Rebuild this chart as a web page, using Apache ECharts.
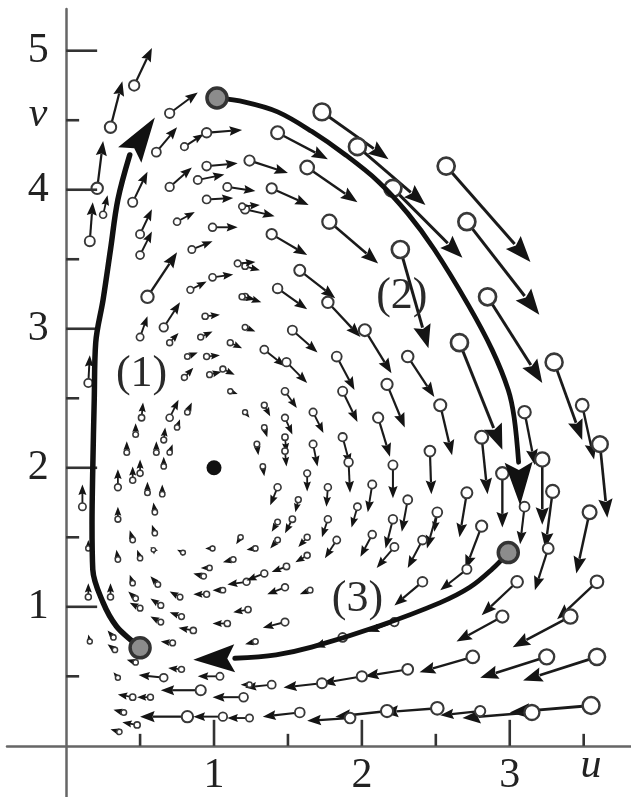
<!DOCTYPE html>
<html><head><meta charset="utf-8">
<script src="https://cdn.jsdelivr.net/npm/echarts@6/dist/echarts.min.js"></script>
<style>html,body{margin:0;padding:0;background:#fff}#c{width:631px;height:797px}</style>
</head><body><div id="c"></div>
<script>
// ---- data ----
const xTickValues = [0.5, 1, 1.5, 2, 2.5, 3, 3.5];
const yTickValues = [0.5, 1, 1.5, 2, 2.5, 3, 3.5, 4, 4.5, 5];
const xLabelValues = [1, 2, 3, 3.55];
const xLabelTexts = ['1', '2', '3', 'u'];
const yLabelValues = [1, 2, 3, 4, 4.5, 5];
const yLabelTexts = ['1', '2', '3', '4', 'v', '5'];
const equilibrium = [[1, 2]];
const stateMarkers = [[0.50, 0.705], [1.02, 4.66], [2.99, 1.39]];
const path1 = [[0.50,0.705],[0.45,0.75],[0.34,0.86],[0.25,1.03],[0.18,1.27],[0.175,1.6],[0.18,1.99],[0.19,2.49],[0.20,2.90],[0.25,3.21],[0.30,3.57],[0.35,3.93],[0.43,4.25],[0.60,4.52]];
const path2 = [[1.02,4.66],[1.21,4.63],[1.43,4.56],[1.66,4.42],[1.89,4.25],[2.11,4.06],[2.31,3.83],[2.49,3.57],[2.72,3.17],[2.88,2.85],[2.99,2.56],[3.03,2.36],[3.06,2.04],[3.07,1.73]];
const path3 = [[2.99,1.39],[2.88,1.27],[2.73,1.14],[2.53,1.03],[2.11,0.86],[1.66,0.71],[1.42,0.655],[1.14,0.63],[0.86,0.62]];
const pathLabels = [[0.51, 2.67, '(1)'], [2.27, 3.23, '(2)'], [1.97, 1.05, '(3)']];
// vector field arrows: [u start, v start, u end, v end]
const fieldArrows = [
[1.73,4.56,2.18,4.22],[1.43,4.41,1.77,4.22],[1.97,4.31,2.43,3.89],[2.21,4.01,2.68,3.51],[2.57,4.17,3.14,3.48],
[1.24,4.21,1.50,4.12],[1.63,4.16,1.97,3.91],[1.39,4.01,1.64,3.89],[2.71,3.77,3.20,3.10],[2.85,3.23,3.22,2.61],
[2.66,2.90,2.95,2.13],[3.30,2.76,3.49,2.20],[3.49,2.45,3.57,2.06],[3.61,2.17,3.66,1.64],[2.53,2.45,2.61,2.09],
[2.81,2.22,2.85,1.81],[3.10,2.40,3.17,2.02],[3.22,2.06,3.22,1.59],[2.95,1.96,2.95,1.57],[2.71,1.82,2.66,1.50],
[2.51,1.68,2.49,1.54],[3.29,1.83,3.24,1.42],[3.10,1.72,3.07,1.45],[2.81,1.58,2.70,1.27],[3.54,1.68,3.45,1.24],
[3.26,1.42,3.17,1.12],[3.59,1.18,3.32,0.91],[3.41,0.93,3.02,0.71],[3.05,1.18,2.81,0.94],[2.95,0.93,2.64,0.75],
[2.75,0.64,2.39,0.53],[3.25,0.64,2.80,0.49],[3.59,0.64,3.09,0.47],[3.55,0.29,3.00,0.24],[3.15,0.24,2.68,0.20],
[2.80,0.25,2.53,0.22],[2.51,0.27,2.14,0.24],[2.17,0.25,1.82,0.21],[1.92,0.20,1.63,0.18],[1.58,0.24,1.33,0.21],
[2.41,1.18,2.22,1.01],[2.22,0.89,2.04,0.82],[1.87,0.78,1.67,0.71],[1.48,0.89,1.33,0.85],[2.31,0.55,2.02,0.50],
[2.00,0.50,1.73,0.45],[1.73,0.45,1.47,0.42],[1.39,0.44,1.21,0.42],[2.71,1.27,2.53,1.12],
[1.78,3.77,2.11,3.47],[1.39,3.68,1.63,3.53],[1.58,3.42,1.82,3.22],[1.43,3.29,1.63,3.14],[1.77,3.19,1.99,2.94],
[1.53,2.99,1.70,2.83],[2.02,2.99,2.20,2.68],[2.26,3.57,2.45,2.86],[2.31,2.80,2.49,2.51],[1.83,2.80,1.95,2.56],
[1.34,2.85,1.48,2.73],[1.49,2.76,1.63,2.61],[2.17,2.60,2.29,2.29],[1.21,3.86,1.41,3.81],[1.21,3.45,1.31,3.42],
[1.21,3.23,1.32,3.19],[1.21,3.01,1.28,2.98],
[1.87,2.55,1.97,2.33],[2.11,2.36,2.19,2.08],[1.48,2.55,1.56,2.43],[1.67,2.40,1.74,2.25],[1.34,2.45,1.38,2.37],
[1.48,2.36,1.53,2.24],[1.34,2.29,1.36,2.22],[1.87,2.22,1.92,2.02],[1.48,2.22,1.49,2.11],[1.48,2.12,1.49,2.01],
[1.67,2.17,1.70,2.01],[1.29,2.17,1.30,2.09],[2.21,2.02,2.21,1.78],[2.46,2.12,2.47,1.81],[1.91,2.04,1.92,1.82],
[1.33,2.01,1.34,1.94],[1.63,1.96,1.63,1.83],[1.77,1.86,1.76,1.72],[2.07,1.88,2.04,1.68],[1.43,1.86,1.38,1.73],
[2.31,1.77,2.27,1.54],[2.51,1.68,2.44,1.42],[1.97,1.72,1.93,1.57],[1.57,1.77,1.55,1.68],[2.21,1.63,2.16,1.42],
[1.77,1.63,1.73,1.50],[1.53,1.63,1.48,1.53],[1.43,1.61,1.39,1.54],[2.07,1.52,1.99,1.36],[1.83,1.48,1.75,1.35],
[1.63,1.50,1.57,1.43],[1.43,1.48,1.38,1.42],[2.22,1.43,2.10,1.28],[2.41,1.48,2.31,1.28],[1.28,1.42,1.22,1.41],
[1.63,1.37,1.55,1.32],[1.49,1.29,1.39,1.25],
[0.51,2.36,0.52,2.47],[0.47,2.24,0.47,2.32],[0.70,2.36,0.76,2.49],[0.82,2.40,0.85,2.47],[0.75,2.29,0.77,2.35],
[0.41,2.11,0.41,2.19],[0.61,2.11,0.61,2.19],[0.66,2.20,0.67,2.29],[0.70,2.11,0.72,2.17],[0.66,2.01,0.66,2.08],
[0.50,1.96,0.50,2.06],[0.45,1.91,0.45,2.01],[0.35,1.86,0.35,1.99],[0.55,1.82,0.55,1.90],[0.65,1.81,0.65,1.88],
[0.11,1.72,0.11,1.88],[0.35,1.63,0.35,1.72],[0.60,1.68,0.59,1.75],[0.60,1.53,0.58,1.59],[0.45,1.48,0.43,1.55],
[0.35,1.34,0.34,1.41],[0.50,1.35,0.48,1.41],[0.59,1.41,0.57,1.43],[0.79,1.39,0.75,1.41],[0.99,1.42,0.94,1.42],
[1.13,1.34,1.06,1.32],[0.97,1.28,0.91,1.28],[1.11,2.55,1.16,2.53],[1.21,2.40,1.24,2.36],[0.15,1.42,0.15,1.48],
[0.16,3.63,0.18,3.91],[0.50,3.68,0.58,3.86],[0.50,3.53,0.58,3.70],[0.75,3.77,0.87,3.84],[0.99,3.73,1.16,3.73],
[0.85,3.57,0.99,3.63],[1.16,3.47,1.28,3.48],[0.55,3.23,0.75,3.55],[0.84,3.28,0.95,3.34],[0.99,3.37,1.13,3.39],
[0.66,3.01,0.77,3.19],[0.50,2.94,0.55,3.09],[0.70,2.90,0.76,2.97],[0.94,3.09,1.04,3.10],[0.91,2.94,0.99,2.98],
[0.82,2.80,0.89,2.83],[0.95,2.80,1.04,2.81],[1.11,2.90,1.19,2.86],[1.19,3.23,1.28,3.21],[0.80,2.65,0.86,2.72],
[0.97,2.67,1.05,2.69],[1.06,2.71,1.14,2.67],[0.15,2.61,0.16,2.81],[1.19,3.88,1.31,3.89],
[0.46,4.75,0.58,5.02],[0.30,4.45,0.38,4.78],[0.21,4.01,0.25,4.35],[0.70,4.55,0.89,4.70],[0.61,4.27,0.75,4.45],
[0.80,4.31,0.93,4.40],[0.95,4.41,1.19,4.43],[0.70,4.02,0.85,4.16],[0.95,4.17,1.16,4.19],[0.89,4.07,1.07,4.11],
[1.09,4.02,1.28,3.99],[0.45,3.91,0.55,4.13],[0.95,3.93,1.13,3.94],[0.25,3.82,0.28,3.96],
[0.15,1.07,0.15,1.17],[0.16,0.75,0.15,0.80],[0.30,1.07,0.30,1.17],[0.45,1.17,0.43,1.23],[0.62,1.16,0.57,1.22],
[0.47,1.06,0.42,1.11],[0.64,1.01,0.57,1.06],[0.77,1.07,0.70,1.11],[0.93,1.22,0.86,1.24],[0.95,1.09,0.86,1.09],
[1.06,1.12,0.99,1.12],[1.22,1.18,1.09,1.16],[0.50,0.99,0.43,1.03],[0.64,0.89,0.57,0.93],[0.78,0.93,0.70,0.96],
[1.09,0.88,0.99,0.88],[1.23,0.98,1.13,0.96],[0.86,0.83,0.76,0.85],[0.32,0.78,0.28,0.83],[0.33,0.69,0.28,0.73],
[0.72,0.74,0.64,0.75],[0.47,0.60,0.41,0.62],[0.35,0.49,0.32,0.53],[0.66,0.49,0.49,0.51],[0.78,0.55,0.69,0.56],
[1.04,0.50,0.89,0.50],[0.91,0.40,0.64,0.40],[0.45,0.35,0.35,0.37],[0.57,0.35,0.48,0.35],[1.20,0.35,0.99,0.35],
[0.39,0.24,0.32,0.26],[0.48,0.15,0.38,0.17],[0.36,0.10,0.30,0.12],[0.82,0.21,0.50,0.21],[1.06,0.21,0.86,0.21],
[1.24,0.20,1.09,0.20],[1.24,0.44,1.18,0.44],[1.48,1.14,1.36,1.09],[1.28,0.75,1.21,0.73],[1.34,1.24,1.22,1.19],
[1.65,1.12,1.58,1.09],[1.18,1.50,1.15,1.45]
];

// ---- chart ----
const chart = echarts.init(document.getElementById('c'), null, {renderer: 'canvas'});
const serif = '"Liberation Serif", "DejaVu Serif", serif';
const labelSize = 42;

function arrowItem(params, api) {
  const p0 = api.coord([api.value(0), api.value(1)]);
  const p1 = api.coord([api.value(2), api.value(3)]);
  const dx = p1[0] - p0[0], dy = p1[1] - p0[1];
  const L = Math.max(Math.hypot(dx, dy), 0.001);
  const ux = dx / L, uy = dy / L;
  const r = Math.min(8.5, 1.9 + L * 0.08);
  const lw = Math.min(3, 1.5 + L * 0.016);
  const hl = Math.min(26, 7 + L * 0.16);
  const hw = hl * 0.38;
  const bx = p1[0] - ux * hl, by = p1[1] - uy * hl;
  return {type: 'group', children: [
    {type: 'line', shape: {x1: p0[0] + ux * r, y1: p0[1] + uy * r, x2: bx + ux * 2, y2: by + uy * 2},
     style: {stroke: '#1a1a1a', lineWidth: lw}},
    {type: 'polygon', shape: {points: [[p1[0], p1[1]], [bx - uy * hw, by + ux * hw], [bx + ux * hl * 0.15, by + uy * hl * 0.15], [bx + uy * hw, by - ux * hw]]},
     style: {fill: '#141414'}},
    {type: 'circle', shape: {cx: p0[0], cy: p0[1], r: r},
     style: {fill: '#fff', stroke: '#383838', lineWidth: Math.max(1.3, lw * 0.9)}}
  ]};
}

function headItem(params, api) {
  const p0 = api.coord([api.value(0), api.value(1)]);
  const p1 = api.coord([api.value(2), api.value(3)]);
  const dx = p1[0] - p0[0], dy = p1[1] - p0[1];
  const L = Math.hypot(dx, dy);
  const ux = dx / L, uy = dy / L;
  const hw = 14;
  return {type: 'polygon', shape: {points: [
    [p1[0], p1[1]],
    [p0[0] - uy * hw, p0[1] + ux * hw],
    [p0[0] + ux * L * 0.18, p0[1] + uy * L * 0.18],
    [p0[0] + uy * hw, p0[1] - ux * hw]]},
    style: {fill: '#111'}};
}

function xTickItem(params, api) {
  const v = api.value(0);
  const p = api.coord([v, 0]);
  const len = Number.isInteger(v) ? 26 : 12;
  return {type: 'line', shape: {x1: p[0], y1: p[1], x2: p[0], y2: p[1] - len}, style: {stroke: '#333', lineWidth: 2.6}};
}
function yTickItem(params, api) {
  const v = api.value(0);
  const p = api.coord([0, v]);
  const len = Number.isInteger(v) ? 31 : 13;
  return {type: 'line', shape: {x1: p[0], y1: p[1], x2: p[0] + len, y2: p[1]}, style: {stroke: '#333', lineWidth: 2.6}};
}
function xLabelItem(params, api) {
  const p = api.coord([api.value(0), 0]);
  const t = xLabelTexts[params.dataIndex];
  const isVar = /[a-z]/.test(t);
  return {type: 'text', x: p[0], y: p[1] + (isVar ? 20 : 30),
    style: {text: t, fontFamily: serif, fontSize: labelSize, fontStyle: isVar ? 'italic' : 'normal',
      fill: '#222', align: 'center', verticalAlign: 'middle'}};
}
function yLabelItem(params, api) {
  const p = api.coord([0, api.value(0)]);
  const t = yLabelTexts[params.dataIndex];
  const isVar = /[a-z]/.test(t);
  return {type: 'text', x: p[0] - 28, y: p[1] + (isVar ? -5 : 0),
    style: {text: t, fontFamily: serif, fontSize: labelSize, fontStyle: isVar ? 'italic' : 'normal',
      fill: '#222', align: 'center', verticalAlign: 'middle'}};
}
function pathLabelItem(params, api) {
  const p = api.coord([api.value(0), api.value(1)]);
  return {type: 'text', x: p[0], y: p[1],
    style: {text: pathLabels[params.dataIndex][2], fontFamily: serif, fontSize: 44,
      fill: '#2a2a2a', align: 'center', verticalAlign: 'middle'}};
}

const pathSeries = [path1, path2, path3].map((p, i) => ({
  type: 'line', data: p.slice(0, p.length - 1), smooth: 0.35, symbol: 'none', z: 5,
  lineStyle: {color: '#111', width: i === 0 ? 5.5 : 4.8, cap: 'round'}, animation: false, silent: true
}));
const heads = [path1, path2, path3].map(p => [p[p.length - 2][0], p[p.length - 2][1], p[p.length - 1][0], p[p.length - 1][1]]);

const option = {
  animation: false,
  backgroundColor: '#fff',
  grid: {left: 7, right: 0, top: 9, bottom: 0, containLabel: false, outerBoundsMode: 'none'},
  xAxis: {
    type: 'value', min: -0.4, max: 3.82,
    axisLine: {onZero: true, lineStyle: {color: '#666', width: 2.5}},
    axisTick: {show: false}, splitLine: {show: false}, axisLabel: {show: false}
  },
  yAxis: {
    type: 'value', min: -0.368, max: 5.3,
    axisLine: {onZero: true, lineStyle: {color: '#666', width: 2.5}},
    axisTick: {show: false}, splitLine: {show: false}, axisLabel: {show: false}
  },
  series: [
    {type: 'custom', renderItem: xTickItem, data: xTickValues.map(v => [v]), z: 3, silent: true, clip: false},
    {type: 'custom', renderItem: yTickItem, data: yTickValues.map(v => [v]), z: 3, silent: true, clip: false},
    {type: 'custom', renderItem: xLabelItem, data: xLabelValues.map(v => [v]), z: 3, silent: true, clip: false},
    {type: 'custom', renderItem: yLabelItem, data: yLabelValues.map(v => [v]), z: 3, silent: true, clip: false},
    {type: 'custom', renderItem: arrowItem, data: fieldArrows, z: 2, silent: true, clip: false},
    ...pathSeries,
    {type: 'custom', renderItem: headItem, data: heads, z: 6, silent: true},
    {type: 'scatter', data: equilibrium, symbolSize: 15, itemStyle: {color: '#111', opacity: 1}, z: 7, silent: true},
    {type: 'scatter', data: stateMarkers, symbolSize: 20, z: 8, silent: true,
     itemStyle: {color: '#8c8c8c', borderColor: '#333', borderWidth: 3.5, opacity: 1}},
    {type: 'custom', renderItem: pathLabelItem, data: pathLabels.map(d => [d[0], d[1]]), z: 9, silent: true}
  ]
};
chart.setOption(option);
</script>
</body></html>
